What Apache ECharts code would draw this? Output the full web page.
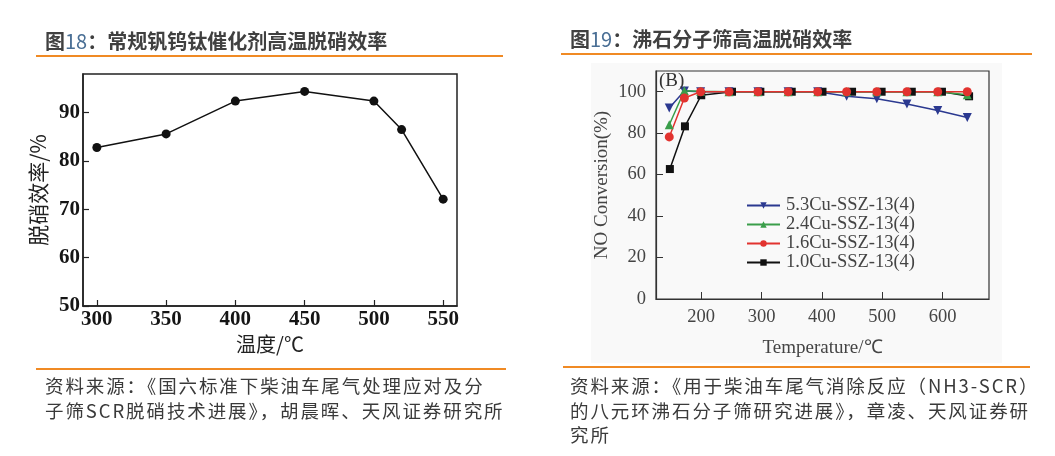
<!DOCTYPE html>
<html>
<head>
<meta charset="utf-8">
<script src="https://cdn.jsdelivr.net/npm/echarts@6/dist/echarts.min.js"></script>
<style>
  body { margin: 0; background: #fff; }
  #wrap { position: relative; width: 1055px; height: 456px; overflow: hidden; }
  #chart { position: absolute; left: 0; top: 0; width: 1055px; height: 456px; }
  .title { position: absolute; font-family: "Noto Sans CJK SC"; font-weight: bold; font-size: 20px; color: #404040; white-space: nowrap; line-height: 24px; }
  .title .num { color: #4a6f95; font-weight: normal; }
  .rule { position: absolute; height: 2px; background: #f08a24; }
  .src { position: absolute; font-family: "Noto Sans CJK SC"; font-size: 18.5px; color: #3a3a3a; white-space: nowrap; line-height: 24.5px; letter-spacing: 1.9px; }
</style>
</head>
<body>
<div id="wrap">
  <div id="chart"></div>
  <div class="title" style="left:45px;top:29px;">图<span class="num">18</span>：常规钒钨钛催化剂高温脱硝效率</div>
  <div class="title" style="left:570px;top:27px;">图<span class="num">19</span>：沸石分子筛高温脱硝效率</div>
  <div class="rule" style="left:36px;top:55px;width:467px;"></div>
  <div class="rule" style="left:561px;top:53px;width:471px;"></div>
  <div class="rule" style="left:36px;top:368px;width:470px;"></div>
  <div class="rule" style="left:563px;top:366px;width:467px;"></div>
  <div class="src" style="left:45px;top:373px;">资料来源：《国六标准下柴油车尾气处理应对及分<br>子筛SCR脱硝技术进展》，胡晨晖、天风证券研究所</div>
  <div class="src" style="left:570px;top:373px;">资料来源：《用于柴油车尾气消除反应（NH3-SCR）<br>的八元环沸石分子筛研究进展》，章凌、天风证券研<br>究所</div>
</div>
<script>
// 图18 数据
var tempA = [300, 350, 400, 450, 500, 520, 550];
var effA = [82.8, 85.6, 92.4, 94.4, 92.4, 86.5, 72.1];
var xTicksA = [300, 350, 400, 450, 500, 550];
var yTicksA = [50, 60, 70, 80, 90];

// 图19 数据
var names = ['5.3Cu-SSZ-13(4)', '2.4Cu-SSZ-13(4)', '1.6Cu-SSZ-13(4)', '1.0Cu-SSZ-13(4)'];
var tempB = [147, 172, 199, 246, 294, 344, 393, 441, 491, 541, 592, 641];
var tempBlack = [148, 173, 200, 251, 298, 350, 401, 450, 499, 549, 599, 644];
var cu53 = [92.2, 100.3, 100, 100, 100, 100, 100, 97.8, 96.6, 94.1, 90.9, 87.6];
var cu24 = [84.1, 100.5, 100.2, 100, 100, 100, 100, 100, 100, 100, 100, 98.5];
var cu16 = [78.2, 97, 100, 100, 100, 100, 100, 100, 100, 100, 100, 100];
var cu10 = [62.7, 83.3, 98.3, 100, 100, 100, 100, 100, 100, 100, 100, 97.8];
var xTicksB = [200, 300, 400, 500, 600];
var yTicksB = [0, 20, 40, 60, 80, 100];

function pairs(xs, ys) {
    return xs.map(function (x, i) { return [x, ys[i]]; });
}

var chart = echarts.init(document.getElementById('chart'));

var serifA = { fontFamily: 'Liberation Serif', fontSize: 21, fontWeight: 'bold', color: '#151515' };
var serifB = { fontFamily: 'Liberation Serif', fontSize: 18.5, color: '#444' };

var option = {
    animation: false,
    graphic: [
        { type: 'rect', shape: { x: 591, y: 63, width: 411, height: 300 }, style: { fill: '#f9f9f9' }, z: -10 },
        { type: 'text', left: 659, top: 72, style: { text: '(B)', font: '19px "Liberation Serif"', fill: '#333' }, z: 10 }
    ],
    grid: [
        { left: 83, top: 74, width: 374, height: 232, show: true, borderColor: '#222', borderWidth: 1.5, containLabel: false },
        { left: 656, top: 71, width: 333, height: 228, show: true, borderColor: '#333', borderWidth: 1.2, containLabel: false }
    ],
    legend: {
        data: names,
        orient: 'vertical',
        left: 741,
        top: 191,
        itemGap: 0,
        itemWidth: 33,
        itemHeight: 8,
        textStyle: { fontFamily: 'Liberation Serif', fontSize: 18.5, lineHeight: 18, color: '#444', padding: [0, 0, 0, 1] },
        selectedMode: false
    },
    xAxis: [
        {
            gridIndex: 0, type: 'value', min: 290, max: 560,
            name: '温度/℃', nameLocation: 'middle', nameGap: 22,
            nameTextStyle: { fontFamily: 'Noto Sans CJK SC', fontSize: 20, color: '#222' },
            axisLine: { lineStyle: { color: '#222', width: 1.5 } },
            axisTick: { inside: true, length: 6, customValues: xTicksA, lineStyle: { color: '#222', width: 1.2 } },
            axisLabel: Object.assign({ customValues: xTicksA, margin: 3 }, serifA),
            splitLine: { show: false }
        },
        {
            gridIndex: 1, type: 'value', min: 125, max: 677,
            name: 'Temperature/℃', nameLocation: 'middle', nameGap: 40,
            nameTextStyle: { fontFamily: 'Liberation Serif', fontSize: 19, color: '#444' },
            axisLine: { lineStyle: { color: '#333', width: 1.2 } },
            axisTick: { inside: true, length: 7, customValues: xTicksB, lineStyle: { color: '#333' } },
            axisLabel: Object.assign({ customValues: xTicksB, margin: 9 }, serifB),
            splitLine: { show: false }
        }
    ],
    yAxis: [
        {
            gridIndex: 0, type: 'value', min: 50, max: 98,
            name: '脱硝效率/%', nameLocation: 'middle', nameGap: 34,
            nameTextStyle: { fontFamily: 'Noto Sans CJK SC', fontSize: 21, color: '#222' },
            axisLine: { lineStyle: { color: '#222', width: 1.5 } },
            axisTick: { inside: true, length: 6, customValues: yTicksA, lineStyle: { color: '#222', width: 1.2 } },
            axisLabel: Object.assign({ customValues: yTicksA, margin: 3 }, serifA),
            splitLine: { show: false }
        },
        {
            gridIndex: 1, type: 'value', min: 0, max: 110,
            name: 'NO Conversion(%)', nameLocation: 'middle', nameGap: 44,
            nameTextStyle: { fontFamily: 'Liberation Serif', fontSize: 19, color: '#444' },
            axisLine: { lineStyle: { color: '#333', width: 1.2 } },
            axisTick: { inside: true, length: 7, customValues: yTicksB, lineStyle: { color: '#333' } },
            axisLabel: Object.assign({ customValues: yTicksB, margin: 10 }, serifB),
            splitLine: { show: false }
        }
    ],
    series: [
        {
            name: '脱硝效率', type: 'line', xAxisIndex: 0, yAxisIndex: 0,
            data: pairs(tempA, effA),
            symbol: 'circle', symbolSize: 9,
            lineStyle: { color: '#111', width: 1.5 },
            itemStyle: { color: '#111' }
        },
        {
            name: names[3], type: 'line', xAxisIndex: 1, yAxisIndex: 1,
            data: pairs(tempBlack, cu10),
            symbol: 'rect', symbolSize: 8,
            lineStyle: { color: '#111', width: 1.5 },
            itemStyle: { color: '#111' }
        },
        {
            name: names[0], type: 'line', xAxisIndex: 1, yAxisIndex: 1,
            data: pairs(tempB, cu53),
            symbol: 'triangle', symbolRotate: 180, symbolSize: 9,
            lineStyle: { color: '#2b3990', width: 1.5 },
            itemStyle: { color: '#2b3990' }
        },
        {
            name: names[1], type: 'line', xAxisIndex: 1, yAxisIndex: 1,
            data: pairs(tempB, cu24),
            symbol: 'triangle', symbolSize: 9,
            lineStyle: { color: '#3a9e4a', width: 1.5 },
            itemStyle: { color: '#3a9e4a' }
        },
        {
            name: names[2], type: 'line', xAxisIndex: 1, yAxisIndex: 1,
            data: pairs(tempB, cu16),
            symbol: 'circle', symbolSize: 9,
            lineStyle: { color: '#e2332f', width: 1.5 },
            itemStyle: { color: '#e2332f' }
        }
    ]
};

chart.setOption(option);
window.addEventListener('resize', function () {
    chart.resize();
});
</script>
</body>
</html>
